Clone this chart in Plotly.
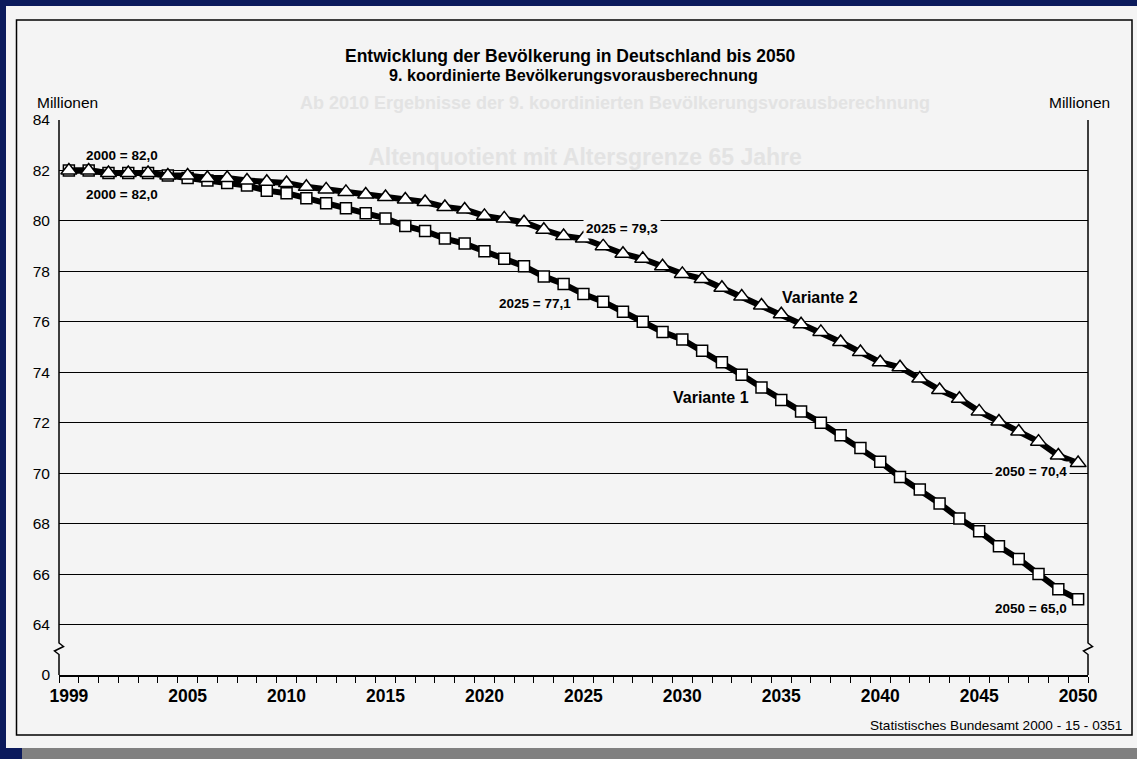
import plotly.graph_objects as go

# ---------------- data ----------------
years = list(range(1999, 2051))
variante_1 = [82.0, 82.0, 81.9, 81.9, 81.9, 81.8, 81.7, 81.6, 81.5, 81.4,
              81.2, 81.1, 80.9, 80.7, 80.5, 80.3, 80.1, 79.8, 79.6, 79.3,
              79.1, 78.8, 78.5, 78.2, 77.8, 77.5, 77.1, 76.8, 76.4, 76.0,
              75.6, 75.3, 74.85, 74.4, 73.9, 73.4, 72.9, 72.45, 72.0, 71.5,
              71.0, 70.45, 69.85, 69.35, 68.8, 68.2, 67.7, 67.1, 66.6, 66.0,
              65.4, 65.0]
variante_2 = [82.0, 82.0, 81.9, 81.9, 81.9, 81.8, 81.8, 81.7, 81.7, 81.6,
              81.55, 81.5, 81.35, 81.25, 81.15, 81.05, 80.95, 80.85, 80.75, 80.55,
              80.45, 80.2, 80.1, 79.95, 79.65, 79.4, 79.3, 79.0, 78.7, 78.5,
              78.2, 77.9, 77.7, 77.35, 77.0, 76.65, 76.3, 75.9, 75.6, 75.2,
              74.8, 74.4, 74.2, 73.75, 73.3, 72.95, 72.45, 72.05, 71.65, 71.25,
              70.7, 70.4]
x_label_years = [1999, 2005, 2010, 2015, 2020, 2025, 2030, 2035, 2040, 2045, 2050]
y_tick_vals = [62, 64, 66, 68, 70, 72, 74, 76, 78, 80, 82, 84]
y_tick_text = ["0", "64", "66", "68", "70", "72", "74", "76", "78", "80", "82", "84"]

title_1 = "Entwicklung der Bevölkerung in Deutschland bis 2050"
title_2 = "9. koordinierte Bevölkerungsvorausberechnung"
source = "Statistisches Bundesamt 2000 - 15 - 0351"

# ---------------- layout geometry ----------------
W, H = 1137, 759
L, R, T, B = 59, 49, 120, 84
PW, PH = W - L - R, H - T - B

def px(p):
    return (p - L) / PW

def py(p):
    return (H - B - p) / PH

FONT = "Liberation Sans, Arial, Helvetica, sans-serif"
PAGE = "#f4f4f4"
NAVY = "#0b1a5c"

fig = go.Figure()

fig.add_trace(go.Scatter(
    x=years, y=variante_1, mode="lines+markers", name="Variante 1",
    line=dict(color="black", width=6),
    marker=dict(symbol="square", size=11, color="white",
                line=dict(color="black", width=1.5)),
    showlegend=False, cliponaxis=False))
fig.add_trace(go.Scatter(
    x=years, y=variante_2, mode="lines+markers", name="Variante 2",
    line=dict(color="black", width=6),
    marker=dict(symbol="triangle-up", size=14, color="white",
                line=dict(color="black", width=1.5)),
    showlegend=False, cliponaxis=False))

shapes = []
# page + bottom band
shapes.append(dict(type="rect", xref="paper", yref="paper", layer="below",
                   x0=px(6), x1=px(1145), y0=py(748), y1=py(6),
                   fillcolor=PAGE, line=dict(width=0)))
shapes.append(dict(type="rect", xref="paper", yref="paper", layer="below",
                   x0=px(22), x1=px(1145), y0=py(765), y1=py(748),
                   fillcolor="#808080", line=dict(width=0)))
# faint bleed-through text of the scanned page
ghosts = [
    ("Ab 2010 Ergebnisse der 9. koordinierten Bevölkerungsvorausberechnung", 615, 101, 18),
    ("Altenquotient mit Altersgrenze 65 Jahre", 585, 155, 23),
]
for txt, cx, cy, sz in ghosts:
    shapes.append(dict(type="rect", xref="paper", yref="paper", layer="below",
                       x0=px(cx - 5), x1=px(cx + 5), y0=py(cy + 5), y1=py(cy - 5),
                       fillcolor="rgba(0,0,0,0)", line=dict(width=0),
                       label=dict(text=txt, textposition="middle center",
                                  font=dict(family=FONT, size=sz, color="#e3e3e3", weight="bold"))))
# outer frame
shapes.append(dict(type="rect", xref="paper", yref="paper", layer="below",
                   x0=px(16.5), x1=px(1132), y0=py(735), y1=py(20),
                   fillcolor="rgba(0,0,0,0)", line=dict(color="black", width=1.5)))
# vertical axes with break mark
for xa in (59, 1088):
    d = 4.5 / PW
    x0 = px(xa)
    path = (f"M {x0},{py(120)} L {x0},{py(643)} L {x0 + d},{py(646.5)} "
            f"L {x0 - d},{py(651)} L {x0},{py(654.5)} L {x0},{py(675)}")
    shapes.append(dict(type="path", xref="paper", yref="paper", path=path,
                       line=dict(color="black", width=1.5), layer="above"))

annotations = [
    dict(text=title_1, x=px(570), y=py(56), font=dict(size=17.5, weight="bold")),
    dict(text=title_2, x=px(573), y=py(75), font=dict(size=16.2, weight="bold")),
    dict(text="Millionen", x=px(35), y=py(102), xanchor="left", font=dict(size=15.5)),
    dict(text="Millionen", x=px(1112), y=py(102), xanchor="right", font=dict(size=15.5)),
    dict(text=source, x=px(1124), y=py(725), xanchor="right", font=dict(size=13.6)),
    dict(text="2000 = 82,0", x=px(122), y=py(155), font=dict(size=13.5, weight="bold")),
    dict(text="2000 = 82,0", x=px(122), y=py(194), font=dict(size=13.5, weight="bold")),
    dict(text="2025 = 79,3", x=px(622), y=py(228), font=dict(size=13.5, weight="bold"),
         bgcolor=PAGE, borderpad=2),
    dict(text="2025 = 77,1", x=px(535), y=py(303), font=dict(size=13.5, weight="bold")),
    dict(text="Variante 2", x=px(820), y=py(297), font=dict(size=16, weight="bold")),
    dict(text="Variante 1", x=px(711), y=py(397), font=dict(size=16, weight="bold")),
    dict(text="2050 = 70,4", x=px(1031), y=py(471), font=dict(size=13.5, weight="bold"),
         bgcolor=PAGE, borderpad=2),
    dict(text="2050 = 65,0", x=px(1031), y=py(608), font=dict(size=13.5, weight="bold")),
]
for a in annotations:
    a.setdefault("xanchor", "center")
    a.update(xref="paper", yref="paper", yanchor="middle", showarrow=False)
    a["font"].update(family=FONT, color="black")

fig.update_layout(
    width=W, height=H, autosize=False,
    margin=dict(l=L, r=R, t=T, b=B, pad=0),
    paper_bgcolor=NAVY, plot_bgcolor="rgba(0,0,0,0)",
    font=dict(family=FONT, color="black"),
    shapes=shapes, annotations=annotations, showlegend=False,
    xaxis=dict(range=[1998.5, 2050.5], tickmode="array",
               tickvals=x_label_years, ticktext=[str(v) for v in x_label_years],
               ticks="outside", ticklen=4, tickcolor="rgba(0,0,0,0)",
               tickfont=dict(family=FONT, size=17.5, weight="bold", color="black"),
               showline=True, linecolor="black", linewidth=1.5,
               showgrid=False, zeroline=False, fixedrange=True,
               minor=dict(tickmode="linear", tick0=1998.5, dtick=1, ticks="outside",
                          ticklen=6, tickwidth=1.3, tickcolor="black", showgrid=False)),
    yaxis=dict(range=[62, 84], tickmode="array", tickvals=y_tick_vals, ticktext=y_tick_text,
               showgrid=True, gridcolor="black", gridwidth=1.3, zeroline=False,
               showline=False, ticks="", ticklabelstandoff=8,
               tickfont=dict(family=FONT, size=15.5, color="black"), fixedrange=True),
    yaxis2=dict(range=[62, 84], tickmode="array", tickvals=y_tick_vals, ticktext=y_tick_text,
                overlaying="y", side="right", showgrid=False, zeroline=False,
                showline=False, ticks="", ticklabelstandoff=9,
                tickfont=dict(family=FONT, size=15.5, color="black"), fixedrange=True),
)

fig.write_html("out.html", config={"displayModeBar": False},
               post_script="document.body.style.margin='0';document.body.style.overflow='hidden';")
